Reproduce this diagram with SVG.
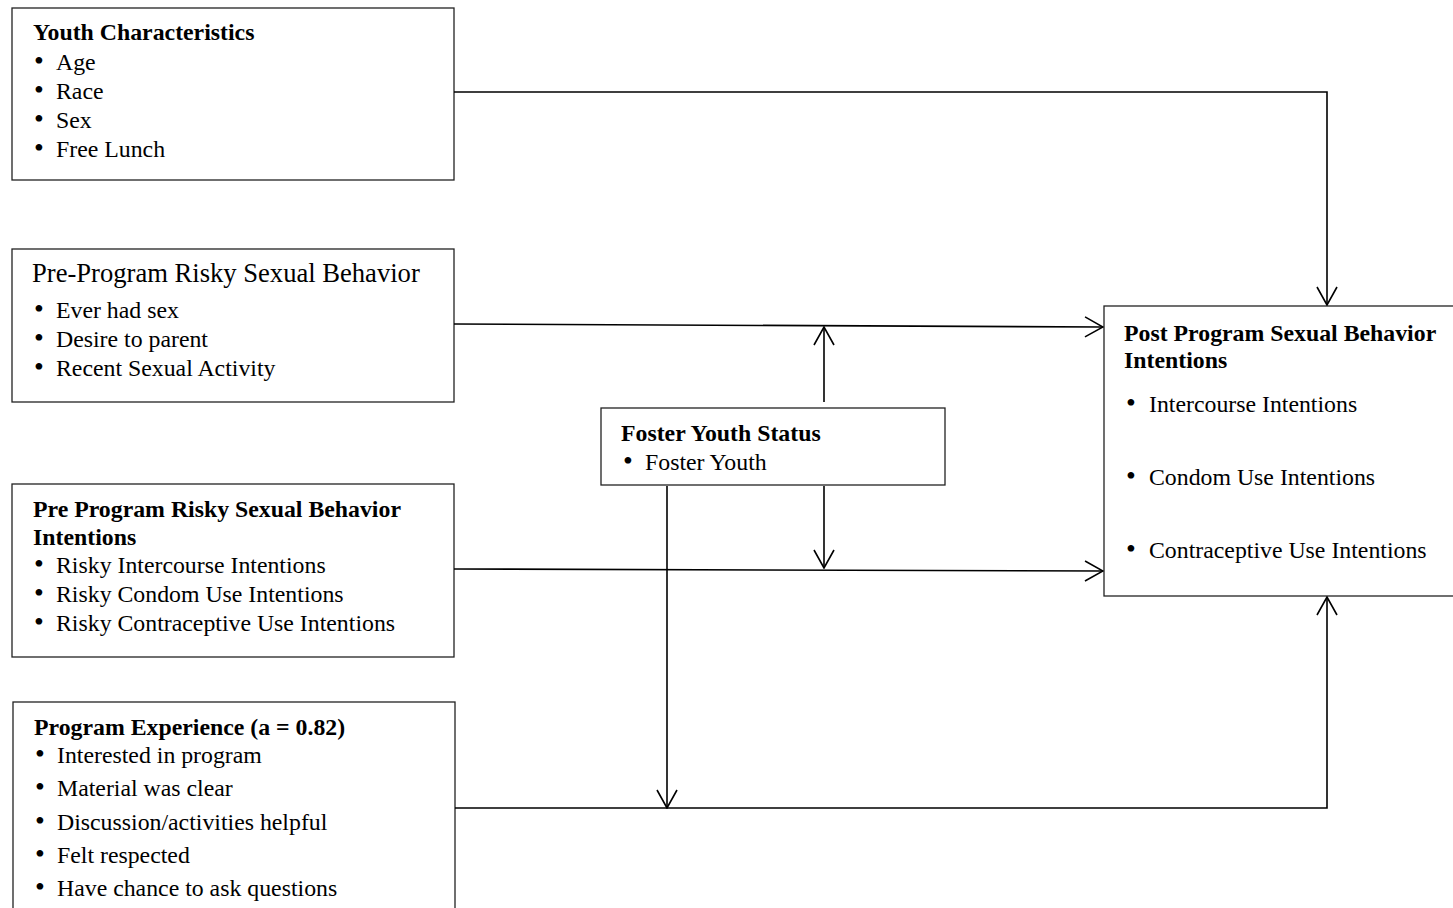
<svg xmlns="http://www.w3.org/2000/svg" width="1453" height="908" viewBox="0 0 1453 908">
<style>
.box{fill:#fff;stroke:#222;stroke-width:1.3}
text{font-family:"Liberation Serif","Times New Roman",serif;font-size:23.8px;fill:#000}
.b{font-weight:bold}
.t2{font-size:26.6px}
.bu{font-size:28px}
.ln{fill:none;stroke:#000;stroke-width:1.6}
</style>
<defs>
<marker id="arr" viewBox="0 0 20 24" refX="19" refY="12" markerWidth="20" markerHeight="24" markerUnits="userSpaceOnUse" orient="auto">
<path d="M1,2 L19,12 L1,22" fill="none" stroke="#000" stroke-width="1.6"/>
</marker>
</defs>
<g id="youth-characteristics">
<rect class="box" x="12" y="8" width="442" height="172"/>
<text class="b" x="33" y="40">Youth Characteristics</text>
<text x="34" y="70"><tspan class="bu">•</tspan><tspan x="56">Age</tspan></text>
<text x="34" y="99"><tspan class="bu">•</tspan><tspan x="56">Race</tspan></text>
<text x="34" y="128"><tspan class="bu">•</tspan><tspan x="56">Sex</tspan></text>
<text x="34" y="157"><tspan class="bu">•</tspan><tspan x="56">Free Lunch</tspan></text>
</g>
<g id="pre-program-behavior">
<rect class="box" x="12" y="249" width="442" height="153"/>
<text class="t2" x="32" y="282">Pre-Program Risky Sexual Behavior</text>
<text x="34" y="318"><tspan class="bu">•</tspan><tspan x="56">Ever had sex</tspan></text>
<text x="34" y="347"><tspan class="bu">•</tspan><tspan x="56">Desire to parent</tspan></text>
<text x="34" y="376"><tspan class="bu">•</tspan><tspan x="56">Recent Sexual Activity</tspan></text>
</g>
<g id="pre-program-intentions">
<rect class="box" x="12" y="484" width="442" height="173"/>
<text class="b" x="33" y="517">Pre Program Risky Sexual Behavior</text>
<text class="b" x="33" y="545">Intentions</text>
<text x="34" y="573"><tspan class="bu">•</tspan><tspan x="56">Risky Intercourse Intentions</tspan></text>
<text x="34" y="602"><tspan class="bu">•</tspan><tspan x="56">Risky Condom Use Intentions</tspan></text>
<text x="34" y="631"><tspan class="bu">•</tspan><tspan x="56">Risky Contraceptive Use Intentions</tspan></text>
</g>
<g id="program-experience">
<rect class="box" x="13" y="702" width="442" height="220"/>
<text class="b" x="34" y="735">Program Experience (a = 0.82)</text>
<text x="35" y="763"><tspan class="bu">•</tspan><tspan x="57">Interested in program</tspan></text>
<text x="35" y="796"><tspan class="bu">•</tspan><tspan x="57">Material was clear</tspan></text>
<text x="35" y="830"><tspan class="bu">•</tspan><tspan x="57">Discussion/activities helpful</tspan></text>
<text x="35" y="863"><tspan class="bu">•</tspan><tspan x="57">Felt respected</tspan></text>
<text x="35" y="896"><tspan class="bu">•</tspan><tspan x="57">Have chance to ask questions</tspan></text>
</g>
<g id="foster-youth-status">
<rect class="box" x="601" y="408" width="344" height="77"/>
<text class="b" x="621" y="441">Foster Youth Status</text>
<text x="623" y="470"><tspan class="bu">•</tspan><tspan x="645">Foster Youth</tspan></text>
</g>
<g id="post-program-intentions">
<rect class="box" x="1104" y="306" width="360" height="290"/>
<text class="b" x="1124" y="341">Post Program Sexual Behavior</text>
<text class="b" x="1124" y="368">Intentions</text>
<text x="1126" y="412"><tspan class="bu">•</tspan><tspan x="1149">Intercourse Intentions</tspan></text>
<text x="1126" y="485"><tspan class="bu">•</tspan><tspan x="1149">Condom Use Intentions</tspan></text>
<text x="1126" y="558"><tspan class="bu">•</tspan><tspan x="1149">Contraceptive Use Intentions</tspan></text>
</g>
<g id="connectors">
<polyline class="ln" points="454,92 1327,92 1327,305" marker-end="url(#arr)"/>
<line class="ln" x1="454" y1="324" x2="1103" y2="327" marker-end="url(#arr)"/>
<line class="ln" x1="454" y1="569" x2="1103" y2="571" marker-end="url(#arr)"/>
<line class="ln" x1="824" y1="402" x2="824" y2="327" marker-end="url(#arr)"/>
<line class="ln" x1="824" y1="486" x2="824" y2="568" marker-end="url(#arr)"/>
<line class="ln" x1="667" y1="486" x2="667" y2="808" marker-end="url(#arr)"/>
<polyline class="ln" points="455,808 1327,808 1327,597" marker-end="url(#arr)"/>
</g>
</svg>
